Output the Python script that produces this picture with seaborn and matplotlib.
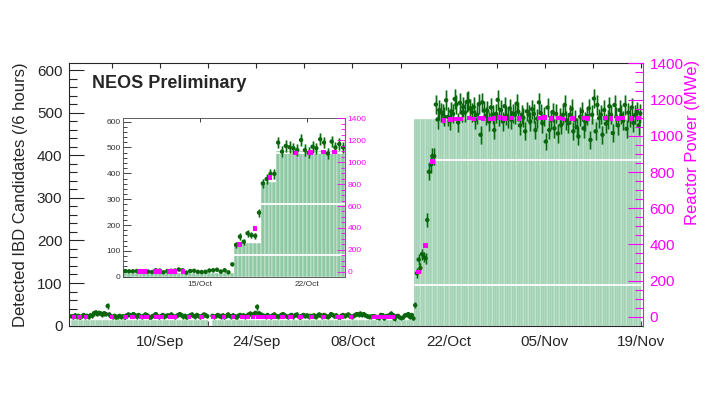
import numpy as np
import pandas as pd
import seaborn as sns
import matplotlib
matplotlib.use("Agg")
import matplotlib.pyplot as plt
import matplotlib.dates as mdates
from matplotlib.ticker import MultipleLocator

sns.set_style("ticks")
plt.rcParams['font.family'] = ['Liberation Sans', 'DejaVu Sans']

start = pd.Timestamp('2015-08-28')
bin_days = 0.25  # 6 hour bins

# IBD candidates per 6 h bin, from 28/Aug 00:00
ibd_counts = [
    # 28/Aug - 03/Sep
    22, 20, 24, 21, 23, 19, 22, 25, 21, 23, 20, 24, 23, 29, 31, 27, 30, 28, 26, 29, 27, 46, 26, 22, 20, 23, 19, 21,
    # 04/Sep - 10/Sep
    23, 20, 22, 19, 24, 26, 25, 23, 27, 24, 21, 25, 22, 20, 23, 26, 24, 21, 19, 22, 24, 27, 23, 20, 22, 25, 21, 23,
    # 11/Sep - 17/Sep
    24, 22, 26, 23, 20, 22, 25, 27, 24, 21, 23, 19, 22, 24, 26, 23, 21, 25, 22, 20, 23, 26, 24, 22, np.nan, np.nan, 23, 21,
    # 18/Sep - 24/Sep
    22, 25, 23, 21, 24, 20, 22, 26, 23, 21, 24, 22, 19, 23, 25, 22, 24, 21, 23, 26, 28, 25, 27, 30, 44, 29, 26, 24,
    # 25/Sep - 01/Oct
    23, 21, 25, 22, 20, 24, 26, 23, 21, 22, 25, 27, 24, 22, 20, 23, 25, 21, 24, 26, 22, 19, 23, 25, 22, 24, 21, 23,
    # 02/Oct - 08/Oct
    22, 24, 20, 23, 26, 24, 21, 25, 23, 20, 22, 27, 25, 22, 24, 21, 19, 23, 25, 22, 24, 26, 23, 20, 22, 25, 27, 26,
    # 09/Oct
    28, 25, 27, 24,
    # 10/Oct - 16/Oct
    22, 21, 21, 22, 22, 21, 20, 18, 25, 24, 17, 22, 23, 24, 28, 25, 16, 22, 23, 19, 18, 19, 24, 25, 27, 20, 25, 17,
    # 17/Oct - 20/Oct (power ramp)
    48, 123, 155, 135, 168, 161, 158, 248, 361, 378, 398, 398, 519,
    # 20/Oct - 24/Oct
    484, 506, 501, 497, 490, 529, 490, 480, 503, 497, 532, 519, 477, 523, 500, 513, 500, 525,
    # 24/Oct - 02/Nov
    527, 510, 501, 513, 483, 495, 520, 448, 524, 505, 492, 504, 479, 512, 495, 459, 497, 530, 490, 506,
    479, 515, 493, 487, 510, 483, 498, 495, 521, 502, 470, 495, 488, 456, 503,
    # 02/Nov - 19/Nov
    495, 479, 508, 497, 459, 486, 524, 499, 475, 490, 432, 512, 459, 483, 501, 463, 497, 451, 488, 471,
    495, 518, 482, 475, 495, 509, 456, 483, 466, 444, 490, 503, 463, 479, 492, 510, 436, 495, 533, 456,
    518, 487, 495, 448, 506, 474, 483, 515, 495, 452, 518, 490, 470, 506, 495, 481, 518, 462, 500, 488,
    512, 476, 495, 503, 470, 498,
]

# reactor power, days since 28/Aug
power_days = [0.5, 1.3, 2.2, 6.0, 8.0, 9.0, 10.2, 11.0, 12.5, 13.2, 14.5, 15.2, 17.2, 19.0, 20.7, 22.3,
              23.6, 25.0, 25.8, 26.5, 27.3, 28.0, 28.8, 29.5, 30.8, 32.0, 33.4, 35.0, 36.8, 38.8, 39.5, 40.8,
              44.05, 44.4, 45.1, 45.4, 46.0, 46.2, 46.35, 46.9,
              50.6, 51.6, 52.6,
              54.3, 55.25, 56.1, 56.8, 58.0, 58.7, 59.5, 60.0, 61.0, 61.6, 62.3, 63.1, 64.1, 65.2, 68.2,
              68.9, 69.9, 71.0, 71.6, 73.0, 74.6, 75.2, 77.8, 78.6, 79.6, 80.3, 81.5, 82.6]
power_mwe = [0, 0, 0, 0, 0, 0, 0, 0, 0, 0, 0, 0, 0, 0, 0, 0,
             0, 0, 0, 0, 0, 0, 0, 0, 0, 0, 0, 0, 0, 0, 0, 0,
             0, 0, 0, 0, 0, 0, 0, 0,
             247, 393, 858,
             1084, 1090, 1092, 1092, 1098, 1093, 1099, 1096, 1094, 1097, 1100, 1095, 1098, 1097, 1099,
             1101, 1096, 1098, 1094, 1097, 1099, 1095, 1098, 1096, 1097, 1099, 1095, 1098]

# filled histogram levels (step edges in days); main panel and inset render differently
main_fill_edges = [0, 50.0, 83.0]
main_fill_levels = [13, 485]
inset_fill_edges = [0, 50.25, 52.0, 53.0, 83.0]
inset_fill_levels = [13, 129, 365, 485]
gap_bins = [80, 81]
main_white_days = [50.0, 52.6]
main_white_levels = [95, 389]
inset_white_days = [50.25, 52.0, 53.0]
inset_white_levels = [84, 281, 480]

t0 = mdates.date2num(start)
counts = np.array(ibd_counts, dtype=float)
nb = len(counts)
edges_days = np.arange(nb + 1) * bin_days
centers_days = edges_days[:-1] + bin_days / 2
x_edges = t0 + edges_days
x_centers = t0 + centers_days
px = t0 + np.array(power_days)


def fill_frame(edges, levels):
    f = np.array(levels, dtype=float)[np.searchsorted(edges, centers_days, side='right') - 1]
    f[gap_bins] = 0
    return pd.DataFrame({'t': x_centers, 'fill': f})


ok = ~np.isnan(counts)
pts_df = pd.DataFrame({'t': x_centers[ok], 'n': counts[ok]})
pow_df = pd.DataFrame({'t': px, 'mwe': power_mwe})

fill_col = '#8ec9a4'
dark = '#0b650b'
band = '#3f9a4f'
mag = '#ff00ff'


def draw(ax, axp, hist_df, white_days, white_levels, ms, ms_pow, lw_edge):
    sns.histplot(data=hist_df, x='t', weights='fill', bins=list(x_edges), ax=ax, color=fill_col,
                 alpha=1, edgecolor='white', linewidth=lw_edge, element='bars', zorder=1)
    for d, lev in zip(white_days, white_levels):
        ax.hlines(lev, t0 + d, x_edges[-1], color='white', lw=1.3, zorder=2)
    err = np.sqrt(pts_df['n'])
    ax.errorbar(pts_df['t'], pts_df['n'], yerr=err, fmt='none', ecolor=band, elinewidth=2.0,
                alpha=0.55, zorder=3)
    ax.errorbar(pts_df['t'], pts_df['n'], yerr=err, fmt='none', ecolor=dark, elinewidth=0.7, zorder=4)
    sns.scatterplot(data=pts_df, x='t', y='n', ax=ax, color=dark, s=ms, edgecolor='none',
                    linewidth=0, zorder=5)
    sns.scatterplot(data=pow_df, x='t', y='mwe', ax=axp, color=mag, marker='s', s=ms_pow,
                    edgecolor='none', linewidth=0, zorder=6)
    ax.set_xlabel('')
    ax.set_ylabel('')
    axp.set_ylabel('')
    ax.spines['right'].set_visible(False)
    axp.spines['right'].set_color(mag)
    for s in ['left', 'top', 'bottom']:
        axp.spines[s].set_visible(False)


fig = plt.figure(figsize=(7.2, 4.05), dpi=100)
ax = fig.add_axes([0.0963, 0.196, 0.7961, 0.649])
ax2 = ax.twinx()
draw(ax, ax2, fill_frame(main_fill_edges, main_fill_levels), main_white_days, main_white_levels,
     10, 11, 0.25)

ax.set_xlim(t0 - 0.2, t0 + 83.2)
ax.set_ylim(0, 617)
ax2.set_ylim(-48.6, 1403.7)
ax.set_xticks([mdates.date2num(pd.Timestamp(s)) for s in
               ['2015-09-10', '2015-09-24', '2015-10-08', '2015-10-22', '2015-11-05', '2015-11-19']])
ax.set_xticks([mdates.date2num(pd.Timestamp(s)) for s in
               ['2015-09-03', '2015-09-17', '2015-10-01', '2015-10-15', '2015-10-29', '2015-11-12']],
              minor=True)
ax.xaxis.set_major_formatter(mdates.DateFormatter('%d/%b'))
ax.yaxis.set_major_locator(MultipleLocator(100))
ax.yaxis.set_minor_locator(MultipleLocator(20))
ax2.yaxis.set_major_locator(MultipleLocator(200))
ax2.yaxis.set_minor_locator(MultipleLocator(50))
ax.tick_params(axis='y', which='major', direction='in', length=11, width=0.8, labelsize=11, pad=5)
ax.tick_params(axis='y', which='minor', direction='in', length=5.5, width=0.8)
ax.tick_params(axis='x', which='both', direction='in', length=3.5, width=0.8, labelsize=11,
               top=True, pad=7)
ax2.tick_params(axis='y', which='major', direction='in', length=11, width=0.8, colors=mag,
                labelsize=11, pad=5)
ax2.tick_params(axis='y', which='minor', direction='in', length=5.5, width=0.8, colors=mag)
ax.set_ylabel('Detected IBD Candidates (/6 hours)', fontsize=12)
ax.yaxis.set_label_coords(-0.072, 0.5)
ax2.set_ylabel('Reactor Power (MWe)', fontsize=12, color=mag, loc='top')
ax2.yaxis.set_label_coords(1.074, 1.01)

fig.text(92 / 720, 1 - 83.5 / 405, 'NEOS Preliminary', fontsize=13, fontweight='bold', va='center')

# inset: zoom on the power ramp
axi = fig.add_axes([0.1713, 0.3168, 0.3079, 0.3911])
axi2 = axi.twinx()
draw(axi, axi2, fill_frame(inset_fill_edges, inset_fill_levels), inset_white_days,
     inset_white_levels, 10, 11, 0.3)
axi.set_xlim(t0 + 43.0, t0 + 57.5)
axi.set_ylim(0, 613)
axi2.set_ylim(-45.6, 1401)
axi.set_xticks([mdates.date2num(pd.Timestamp(s)) for s in ['2015-10-15', '2015-10-22']])
axi.xaxis.set_major_formatter(mdates.DateFormatter('%d/%b'))
axi.yaxis.set_major_locator(MultipleLocator(100))
axi.yaxis.set_minor_locator(MultipleLocator(20))
axi2.yaxis.set_major_locator(MultipleLocator(200))
axi2.yaxis.set_minor_locator(MultipleLocator(50))
axi.tick_params(axis='y', which='major', direction='in', length=6, width=0.6, labelsize=6,
                labelcolor='#333333', pad=2)
axi.tick_params(axis='y', which='minor', direction='in', length=3, width=0.6)
axi.tick_params(axis='x', which='major', direction='in', length=3, width=0.6, labelsize=6,
                labelcolor='#333333', top=True, pad=3)
axi2.tick_params(axis='y', which='major', direction='in', length=6, width=0.6, colors=mag,
                 labelsize=6, pad=2)
axi2.tick_params(axis='y', which='minor', direction='in', length=3, width=0.6, colors=mag)
for s in ['left', 'top', 'bottom']:
    axi.spines[s].set_linewidth(0.6)
    axi.spines[s].set_color('#444444')
axi2.spines['right'].set_linewidth(0.8)

plt.savefig('out.png', dpi=100)
